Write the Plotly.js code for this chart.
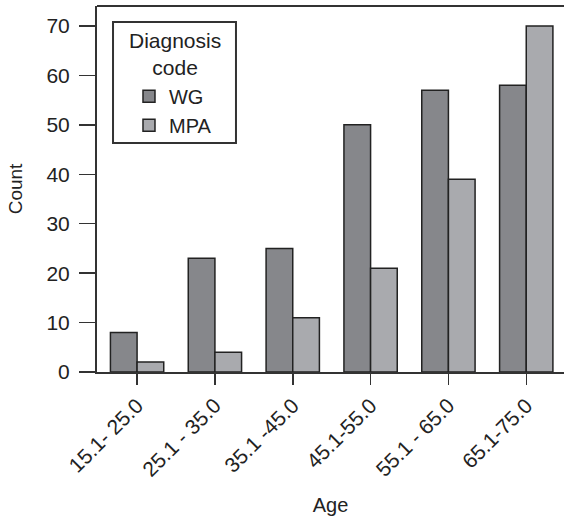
<!DOCTYPE html>
<html>
<head>
<meta charset="utf-8">
<script src="https://cdn.plot.ly/plotly-3.0.1.min.js"></script>
<style>html,body{margin:0;padding:0;background:#fff;}#chart{width:564px;height:520px;}</style>
</head>
<body>
<div id="chart"></div>
<script>
var categories = ["15.1- 25.0", "25.1 - 35.0", "35.1 -45.0", "45.1-55.0", "55.1 - 65.0", "65.1-75.0"];
var wgValues = [8, 23, 25, 50, 57, 58];
var mpaValues = [2, 4, 11, 21, 39, 70];
var yTicks = [0, 10, 20, 30, 40, 50, 60, 70];
var legendTitle = "Diagnosis<br>code";

var font = "Liberation Sans, Arial, Helvetica, sans-serif";
var traces = [
  {type: "bar", name: "WG", x: categories, y: wgValues,
   marker: {color: "#86878b", line: {color: "#222", width: 1.5}}},
  {type: "bar", name: "MPA", x: categories, y: mpaValues,
   marker: {color: "#a9aaae", line: {color: "#222", width: 1.5}}}
];
var layout = {
  width: 564, height: 520,
  margin: {l: 97, r: 0, t: 6, b: 148},
  paper_bgcolor: "#fff", plot_bgcolor: "#fff",
  font: {family: font, size: 21, color: "#222"},
  barmode: "group", bargap: 0.315, bargroupgap: 0,
  showlegend: true,
  legend: {
    x: 0.0685, xanchor: "left", y: 0.807, yanchor: "top",
    borderwidth: 0, bgcolor: "rgba(0,0,0,0)",
    font: {family: font, size: 20, color: "#222"},
    tracegroupgap: 0
  },
  xaxis: {
    type: "category", range: [-0.515, 5.485],
    showline: true, linecolor: "#333", linewidth: 2, mirror: false,
    ticks: "outside", ticklen: 11, tickwidth: 1.5, tickcolor: "#333",
    tickangle: -45, showgrid: false, zeroline: false,
    tickfont: {family: font, size: 21, color: "#222"},
    title: {text: "Age", font: {family: font, size: 20, color: "#222"}, standoff: 18}
  },
  yaxis: {
    range: [0, 74.05], tickvals: yTicks, ticktext: yTicks.map(String),
    showline: true, linecolor: "#333", linewidth: 2,
    ticks: "outside", ticklen: 16, tickwidth: 1.5, tickcolor: "#333",
    ticklabelstandoff: 5, showgrid: false, zeroline: false,
    tickfont: {family: font, size: 21, color: "#222"},
    title: {text: "Count", font: {family: font, size: 19, color: "#222"}, standoff: 19}
  },
  shapes: [
    {type: "line", xref: "paper", yref: "paper", x0: 0, x1: 1, y0: 1, y1: 1,
     line: {color: "#333", width: 2}},
    {type: "rect", xref: "paper", yref: "paper", x0: 0.0343, x1: 0.2976, y0: 0.6257, y1: 0.9563,
     line: {color: "#333", width: 2}, fillcolor: "rgba(0,0,0,0)", layer: "above"}
  ],
  annotations: [
    {xref: "paper", yref: "paper", x: 0.167, y: 0.8675, xanchor: "center", yanchor: "middle",
     text: legendTitle, showarrow: false, align: "center",
     font: {family: font, size: 21, color: "#222"}}
  ]
};
Plotly.newPlot("chart", traces, layout, {displayModeBar: false, staticPlot: true});
</script>
</body>
</html>
